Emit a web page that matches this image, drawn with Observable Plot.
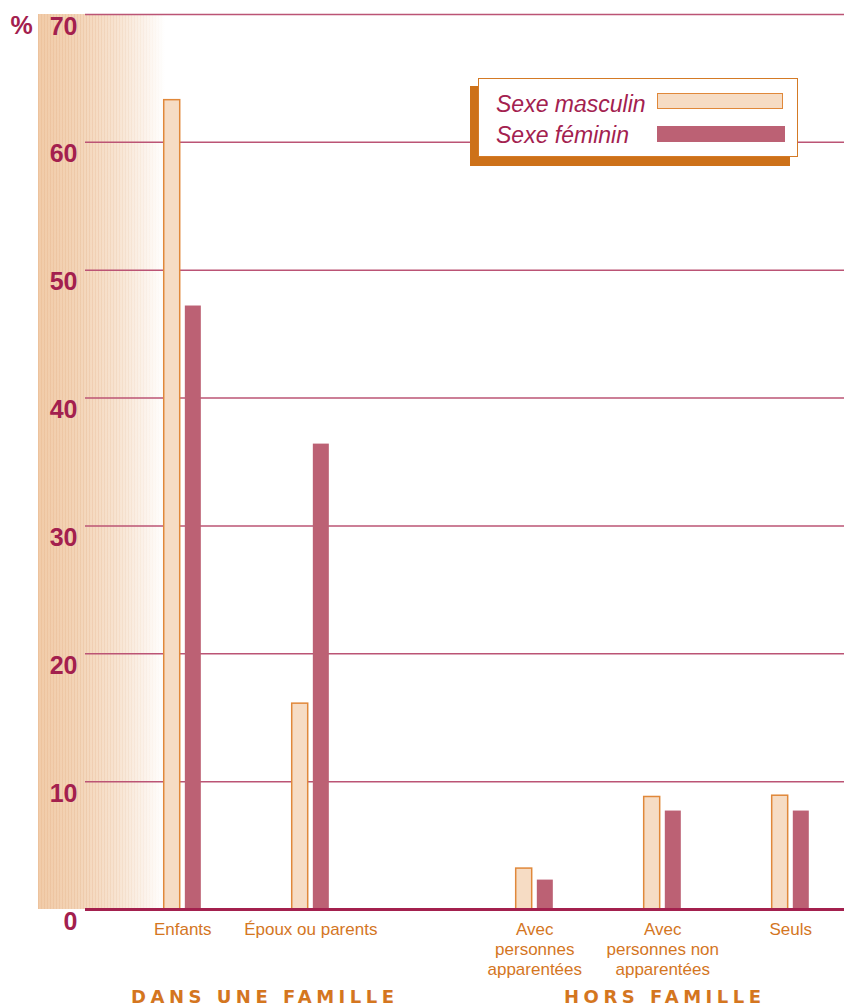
<!DOCTYPE html>
<html>
<head>
<meta charset="utf-8">
<script src="https://cdn.jsdelivr.net/npm/d3@7"></script>
<script src="https://cdn.jsdelivr.net/npm/@observablehq/plot@0.6"></script>
<style>
  html, body { margin: 0; padding: 0; background: #fff; }
  #wrap { position: relative; width: 844px; height: 1007px; overflow: hidden; }
  #grad {
    position: absolute; left: 38px; top: 14px; width: 127px; height: 895px;
    background: linear-gradient(to right, #f1cba8 0%, #f3d4b7 30%, #f7e2cf 60%, #fbf1e8 82%, #ffffff 100%);
  }
  #stripes {
    position: absolute; left: 38px; top: 14px; width: 127px; height: 895px;
    background: repeating-linear-gradient(to right, rgba(222,165,118,0.22) 0px, rgba(222,165,118,0.22) 1px, rgba(255,255,255,0) 1px, rgba(255,255,255,0) 3px);
    -webkit-mask-image: linear-gradient(to right, #000 0%, #000 40%, transparent 100%);
    mask-image: linear-gradient(to right, #000 0%, #000 40%, transparent 100%);
  }
  #chart { position: absolute; left: 0; top: 0; }
  #legShadow { position: absolute; left: 470px; top: 86px; width: 320px; height: 80px; background: #cd7119; }
  #legBox { position: absolute; left: 478px; top: 78px; width: 320px; height: 79px; box-sizing: border-box;
            background: #fff; border: 1.5px solid #d47a25; }
  .legText { position: absolute; font-family: "Liberation Sans", Arial, sans-serif; font-style: italic;
             font-size: 23px; line-height: 1; color: #a3214f; white-space: nowrap; }
  .legSw { position: absolute; box-sizing: border-box; }
</style>
</head>
<body>
<div id="wrap">
  <div id="grad"></div>
  <div id="stripes"></div>
  <div id="chart"></div>
  <div id="legShadow"></div>
  <div id="legBox"></div>
</div>
<script>
// ---- data ----
const categories = ["Enfants", "Époux ou parents", "Avec personnes apparentées", "Avec personnes non apparentées", "Seuls"];
const categoryLabels = ["Enfants", "Époux ou parents", "Avec\npersonnes\napparentées", "Avec\npersonnes non\napparentées", "Seuls"];
const categoryGroups = ["DANS UNE FAMILLE", "DANS UNE FAMILLE", "HORS FAMILLE", "HORS FAMILLE", "HORS FAMILLE"];
const groupNames = ["DANS UNE FAMILLE", "HORS FAMILLE"];
const seriesNames = ["Sexe masculin", "Sexe féminin"];
const masculin = [63.3, 16.1, 3.2, 8.8, 8.9];
const feminin = [47.2, 36.4, 2.3, 7.7, 7.7];
const yTicks = [0, 10, 20, 30, 40, 50, 60, 70];
const yUnit = "%";

// ---- styles ----
const crimson = "#a3204e";
const orange = "#d4761f";
const mascFill = "#f6dcc4", mascStroke = "#e0883a";
const femFill = "#bc6174";
const gridColor = "#bb5475";
const sans = "'Liberation Sans', Arial, sans-serif";
const groupLabelNudge = {"DANS UNE FAMILLE": 18, "HORS FAMILLE": 2}; // px, heading alignment

// layout: category slots along a linear axis, with an extra gap between the two groups
const groupGap = 0.75;
const pos = categories.map((c, i) => i + groupNames.indexOf(categoryGroups[i]) * groupGap);
const barW = 0.125, barGap = 0.04;

const rowsM = categories.map((c, i) => ({cat: c, pos: pos[i], value: masculin[i]}));
const rowsF = categories.map((c, i) => ({cat: c, pos: pos[i], value: feminin[i]}));

const plot = Plot.plot({
  width: 844,
  height: 1007,
  marginLeft: 85,
  marginRight: 0,
  marginTop: 14,
  marginBottom: 98,
  style: {background: "transparent", overflow: "visible"},
  x: {type: "linear", domain: [-0.76, 5.17], axis: null},
  y: {domain: [0, 70], axis: null},
  marks: [
    Plot.ruleY(yTicks.filter(t => t > 0), {stroke: gridColor, strokeWidth: 1.5}),
    Plot.rect(rowsM, {x1: d => d.pos - barGap / 2 - barW, x2: d => d.pos - barGap / 2, y1: 0, y2: "value",
      fill: mascFill, stroke: mascStroke, strokeWidth: 1.5}),
    Plot.rect(rowsF, {x1: d => d.pos + barGap / 2, x2: d => d.pos + barGap / 2 + barW, y1: 0, y2: "value",
      fill: femFill}),
    Plot.ruleY([0], {stroke: crimson, strokeWidth: 3}),
    Plot.axisY({ticks: yTicks, tickSize: 0, tickPadding: 8, label: null, fontSize: 25, fontWeight: "bold",
      fontFamily: sans, fill: crimson, dy: 12}),
    Plot.text([yUnit], {frameAnchor: "top-left", textAnchor: "start", lineAnchor: "middle", dx: -75, dy: 11,
      fontSize: 25, fontWeight: "bold", fontFamily: sans, fill: crimson}),
    Plot.text(categories, {x: (c, i) => pos[i], text: (c, i) => categoryLabels[i], frameAnchor: "bottom",
      lineAnchor: "top", dy: 11, lineHeight: 1.18, fontSize: 17, fontFamily: sans, fill: orange}),
    ...groupNames.map(g => Plot.text([g], {
      x: () => d3.mean(pos.filter((p, i) => categoryGroups[i] === g)), frameAnchor: "bottom",
      lineAnchor: "middle", dy: 88, dx: groupLabelNudge[g], fontSize: 18, fontWeight: "bold",
      fontFamily: "'DejaVu Sans', sans-serif", fill: orange}))
  ]
});
document.getElementById("chart").appendChild(plot);

// letter-spaced group headings
plot.querySelectorAll("text").forEach(t => {
  if (groupNames.includes(t.textContent)) t.style.letterSpacing = "4.5px";
});

// ---- legend ----
const wrap = document.getElementById("wrap");
const legendStyles = [
  {fill: mascFill, border: "1.5px solid " + mascStroke, width: 126},
  {fill: femFill, border: "none", width: 128}
];
seriesNames.forEach((name, i) => {
  const t = document.createElement("div");
  t.className = "legText";
  t.textContent = name;
  t.style.left = "496px";
  t.style.top = (92.5 + i * 31) + "px";
  wrap.appendChild(t);
  const s = document.createElement("div");
  s.className = "legSw";
  s.style.left = "657px";
  s.style.top = (93 + i * 33) + "px";
  s.style.width = legendStyles[i].width + "px";
  s.style.height = "16px";
  s.style.background = legendStyles[i].fill;
  s.style.border = legendStyles[i].border;
  wrap.appendChild(s);
});
</script>
</body>
</html>
